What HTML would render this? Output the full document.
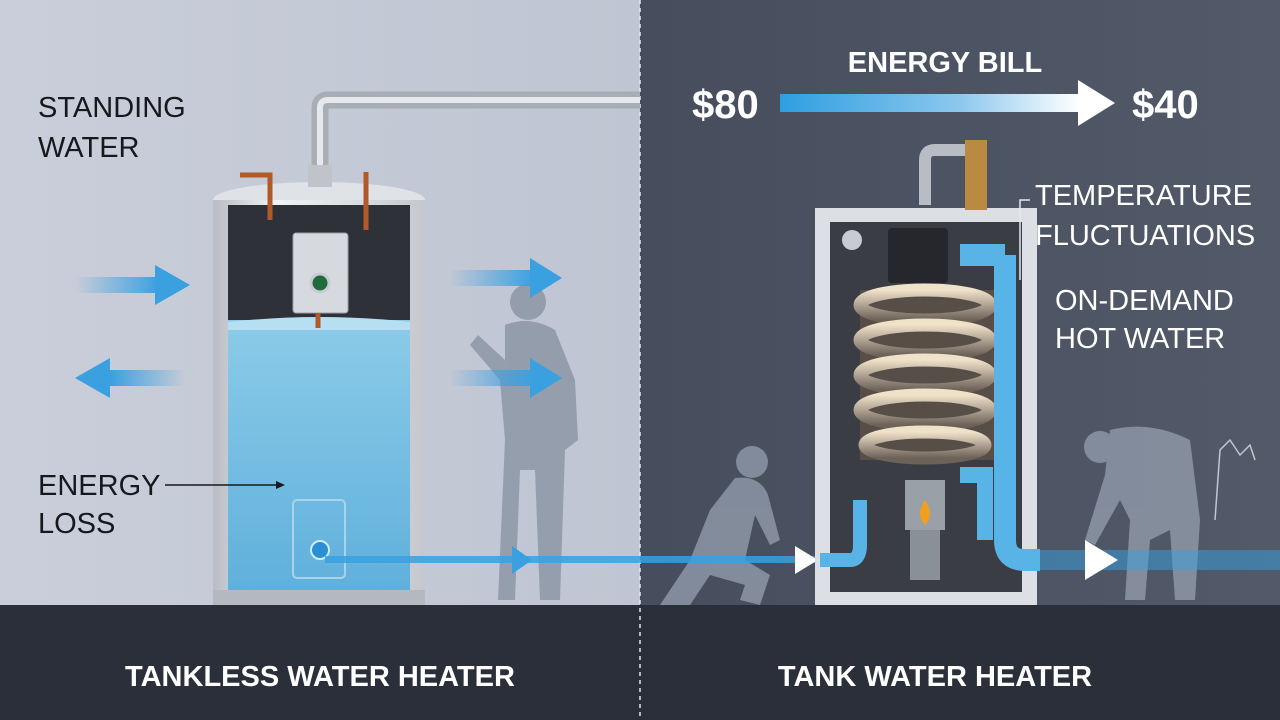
<!DOCTYPE html>
<html><head><meta charset="utf-8"><style>
html,body{margin:0;padding:0;width:1280px;height:720px;overflow:hidden;background:#4a5161}
svg{display:block}
text{font-family:"Liberation Sans",sans-serif}
</style></head><body>
<svg width="1280" height="720" viewBox="0 0 1280 720" xmlns="http://www.w3.org/2000/svg">
<defs>
<linearGradient id="lbg" x1="0" y1="0" x2="1" y2="0"><stop offset="0" stop-color="#c9ceda"/><stop offset="1" stop-color="#bfc5d2"/></linearGradient>
<linearGradient id="rbg" x1="0" y1="0" x2="1" y2="0"><stop offset="0" stop-color="#464d5c"/><stop offset="1" stop-color="#525a69"/></linearGradient>
<linearGradient id="bill" x1="0" y1="0" x2="1" y2="0"><stop offset="0" stop-color="#2f9ee0"/><stop offset="0.6" stop-color="#8cc8ee"/><stop offset="1" stop-color="#ffffff"/></linearGradient>
<linearGradient id="water" x1="0" y1="0" x2="0" y2="1"><stop offset="0" stop-color="#8ccbe8"/><stop offset="1" stop-color="#5fb0dc"/></linearGradient>
<linearGradient id="tank" x1="0" y1="0" x2="1" y2="0"><stop offset="0" stop-color="#b8bcc4"/><stop offset="0.3" stop-color="#f2f3f5"/><stop offset="1" stop-color="#c4c8ce"/></linearGradient>
<linearGradient id="arrL" x1="0" y1="0" x2="1" y2="0"><stop offset="0" stop-color="#3aa0e0" stop-opacity="0"/><stop offset="1" stop-color="#3aa0e0"/></linearGradient>
<linearGradient id="arrR" x1="1" y1="0" x2="0" y2="0"><stop offset="0" stop-color="#3aa0e0" stop-opacity="0"/><stop offset="1" stop-color="#3aa0e0"/></linearGradient>
<linearGradient id="coil" x1="0" y1="0" x2="0" y2="1"><stop offset="0" stop-color="#f0e2c8"/><stop offset="0.5" stop-color="#b0a394"/><stop offset="1" stop-color="#6d6258"/></linearGradient>
</defs>
<rect x="0" y="0" width="640" height="605" fill="url(#lbg)"/>
<rect x="640" y="0" width="640" height="605" fill="url(#rbg)"/>
<rect x="0" y="605" width="1280" height="115" fill="#2b2f39"/>
<line x1="640" y1="0" x2="640" y2="720" stroke="#e8eaf0" stroke-width="1.5" stroke-dasharray="4 4"/>

<path d="M320 185 V108 Q320 100 328 100 H640" fill="none" stroke="#a8aeb6" stroke-width="17"/>
<path d="M320 185 V108 Q320 100 328 100 H640" fill="none" stroke="#e6e8ec" stroke-width="6"/>

<g fill="#8d96a6" opacity="0.85">
<circle cx="528" cy="302" r="18"/>
<path d="M505 325 Q530 315 555 330 L575 380 L578 440 L565 450 L560 600 L540 600 L535 470 L520 470 L515 600 L498 600 L505 440 L500 380 L470 345 L478 335 L505 360 Z"/>
<circle cx="752" cy="462" r="16"/>
<path d="M735 478 Q760 475 768 495 L780 540 L770 545 L755 515 L745 560 L770 575 L760 605 L740 600 L745 585 L710 575 L690 605 L660 605 L690 560 L710 510 Z"/>
<circle cx="1100" cy="447" r="16"/>
<path d="M1110 430 Q1150 420 1190 440 L1200 520 L1195 600 L1175 600 L1170 530 L1150 540 L1145 600 L1125 600 L1130 520 L1120 500 L1095 545 L1085 540 L1105 475 Z"/>
</g>
<path d="M1215 520 L1220 450 L1230 440 L1240 455 L1250 445 L1255 460" fill="none" stroke="#c0c6d0" stroke-width="1.5"/>

<ellipse cx="319" cy="200" rx="106" ry="18" fill="#dfe2e7"/>
<rect x="213" y="200" width="212" height="400" fill="url(#tank)"/>
<rect x="228" y="205" width="182" height="120" fill="#2e3138"/>
<rect x="228" y="320" width="182" height="272" fill="url(#water)"/>
<path d="M228 322 Q320 312 410 322 V330 H228Z" fill="#b6e0f2"/>
<rect x="213" y="590" width="212" height="15" fill="#b4b9c0"/>
<rect x="293" y="233" width="55" height="80" rx="3" fill="#d6d9de" stroke="#9aa0a8"/>
<circle cx="320" cy="283" r="9" fill="#1f6b3e" stroke="#c8ccd2" stroke-width="3"/>
<path d="M318 313 V328" stroke="#b05a2a" stroke-width="5"/>
<path d="M270 220 V175 H240" fill="none" stroke="#b05a2a" stroke-width="5"/>
<path d="M366 230 V172" stroke="#b05a2a" stroke-width="5"/>
<rect x="308" y="165" width="24" height="22" fill="#c0c4ca"/>
<rect x="293" y="500" width="52" height="78" rx="4" fill="none" stroke="#a8d4ea" stroke-width="2"/>
<circle cx="320" cy="550" r="9" fill="#2a8fd4" stroke="#d0ecf8" stroke-width="2"/>

<rect x="75" y="277" width="85" height="16" fill="url(#arrL)"/><polygon points="155,265 190,285 155,305" fill="#3aa0e0"/>
<rect x="110" y="370" width="75" height="16" fill="url(#arrR)"/><polygon points="110,358 75,378 110,398" fill="#3aa0e0"/>
<rect x="450" y="270" width="85" height="16" fill="url(#arrL)"/><polygon points="530,258 562,278 530,298" fill="#3aa0e0"/>
<rect x="450" y="370" width="85" height="16" fill="url(#arrL)"/><polygon points="530,358 562,378 530,398" fill="#3aa0e0"/>
<rect x="325" y="556" width="490" height="7" fill="#3aa0e0" opacity="0.85"/>
<polygon points="512,546 532,560 512,574" fill="#3aa0e0"/>
<polygon points="795,546 818,560 795,574" fill="#ffffff"/>
<rect x="1040" y="550" width="240" height="20" fill="#3aa0e0" opacity="0.5"/>
<polygon points="1085,540 1118,560 1085,580" fill="#ffffff"/>

<rect x="815" y="208" width="222" height="397" fill="#dcdfe3"/>
<rect x="830" y="222" width="192" height="370" fill="#3a3d44"/>
<rect x="860" y="290" width="140" height="170" fill="#6b5c4a" opacity="0.6"/>
<g fill="none" stroke="url(#coil)" stroke-width="13">
<ellipse cx="925" cy="305" rx="65" ry="15"/>
<ellipse cx="925" cy="340" rx="65" ry="15"/>
<ellipse cx="925" cy="375" rx="65" ry="15"/>
<ellipse cx="925" cy="410" rx="65" ry="15"/>
<ellipse cx="925" cy="445" rx="60" ry="13"/>
</g>
<rect x="888" y="228" width="60" height="55" rx="4" fill="#25272c"/>
<circle cx="852" cy="240" r="10" fill="#c8ccd2"/>
<rect x="905" y="480" width="40" height="50" fill="#9aa0a8"/>
<path d="M925 500 Q915 515 925 525 Q935 515 925 500Z" fill="#f0a020"/>
<rect x="910" y="530" width="30" height="50" fill="#8a9098"/>
<path d="M1005 255 V540 Q1005 560 1025 560 H1040" fill="none" stroke="#58b4e6" stroke-width="22"/>
<path d="M960 255 H1005" stroke="#58b4e6" stroke-width="22"/>
<path d="M960 475 H985 V540" fill="none" stroke="#58b4e6" stroke-width="16"/>
<path d="M820 560 H850 Q860 560 860 545 V500" fill="none" stroke="#58b4e6" stroke-width="14"/>
<path d="M925 205 V160 Q925 150 935 150 H965" fill="none" stroke="#b8bcc4" stroke-width="12"/>
<rect x="965" y="140" width="22" height="70" fill="#b98a40"/>
<path d="M1030 200 H1020 V280" fill="none" stroke="#e6e8ee" stroke-width="1.5"/>

<g fill="#16181d" font-size="29">
<text x="38" y="117">STANDING</text><text x="38" y="157">WATER</text>
<text x="38" y="495">ENERGY</text><text x="38" y="533">LOSS</text>
</g>
<line x1="165" y1="485" x2="278" y2="485" stroke="#16181d" stroke-width="1.5"/>
<polygon points="276,481 285,485 276,489" fill="#16181d"/>
<g fill="#ffffff">
<text x="945" y="72" font-size="29" font-weight="bold" text-anchor="middle">ENERGY BILL</text>
<text x="692" y="118" font-size="40" font-weight="bold">$80</text>
<text x="1132" y="118" font-size="40" font-weight="bold">$40</text>
<text x="1035" y="205" font-size="29">TEMPERATURE</text>
<text x="1035" y="245" font-size="29">FLUCTUATIONS</text>
<text x="1055" y="310" font-size="29">ON-DEMAND</text>
<text x="1055" y="348" font-size="29">HOT WATER</text>
<text x="320" y="686" font-size="29" font-weight="bold" text-anchor="middle">TANKLESS WATER HEATER</text>
<text x="935" y="686" font-size="29" font-weight="bold" text-anchor="middle">TANK WATER HEATER</text>
</g>
<rect x="780" y="94" width="300" height="18" fill="url(#bill)"/>
<polygon points="1078,80 1115,103 1078,126" fill="#ffffff"/>
</svg>
</body></html>
